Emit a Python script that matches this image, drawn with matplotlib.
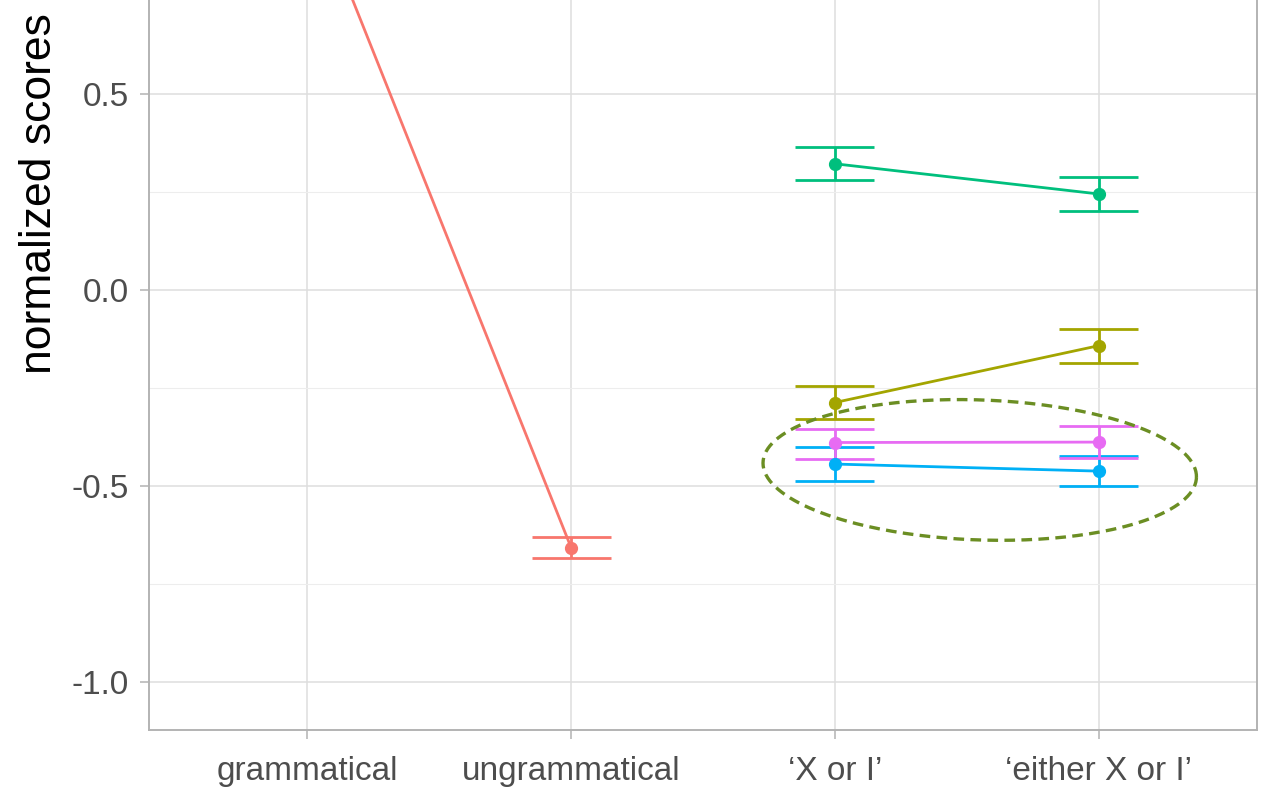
import numpy as np
import matplotlib.pyplot as plt

plt.rcParams['font.family'] = ['Liberation Sans', 'DejaVu Sans']

# conditions on the x axis
conditions = ['grammatical', 'ungrammatical', '\u2018X or I\u2019', '\u2018either X or I\u2019']

# each group: x positions (condition index), mean, lower, upper
ctrl_x = [1, 2]
ctrl_mean = [1.03, -0.657]
ctrl_lo = [1.00, -0.684]
ctrl_hi = [1.06, -0.631]

olive_x = [3, 4]
olive_mean = [-0.287, -0.142]
olive_lo = [-0.330, -0.187]
olive_hi = [-0.246, -0.099]

green_x = [3, 4]
green_mean = [0.322, 0.245]
green_lo = [0.280, 0.202]
green_hi = [0.366, 0.288]

blue_x = [3, 4]
blue_mean = [-0.444, -0.462]
blue_lo = [-0.486, -0.501]
blue_hi = [-0.401, -0.423]

pink_x = [3, 4]
pink_mean = [-0.389, -0.388]
pink_lo = [-0.431, -0.428]
pink_hi = [-0.355, -0.347]

groups = [
    (ctrl_x, ctrl_mean, ctrl_lo, ctrl_hi, '#F8766D'),
    (olive_x, olive_mean, olive_lo, olive_hi, '#A3A500'),
    (green_x, green_mean, green_lo, green_hi, '#00BF7D'),
    (blue_x, blue_mean, blue_lo, blue_hi, '#00B0F6'),
    (pink_x, pink_mean, pink_lo, pink_hi, '#E76BF3'),
]

fig = plt.figure(figsize=(12.67, 7.94), dpi=100)
ax = fig.add_axes([149 / 1267, 64 / 794, 1108 / 1267, 730 / 794])

for xs, m, lo, hi, col in groups:
    ax.plot(xs, m, color=col, lw=2, zorder=3)
    ax.vlines(xs, lo, hi, color=col, lw=2, zorder=3)
    xs = np.array(xs)
    ax.hlines(lo, xs - 0.15, xs + 0.15, color=col, lw=2, zorder=3)
    ax.hlines(hi, xs - 0.15, xs + 0.15, color=col, lw=2, zorder=3)
    ax.plot(xs, m, 'o', color=col, ms=8.5, zorder=4)

# dashed ring round the low-scoring groups
ell_cx, ell_cy = 3.549, -0.459
ell_a, ell_b, ell_ang = 217, 70, np.radians(-2)   # semi-axes in pixels
t = np.linspace(0, 2 * np.pi, 300)
px = ell_a * np.cos(t) * np.cos(ell_ang) - ell_b * np.sin(t) * np.sin(ell_ang)
py = ell_a * np.cos(t) * np.sin(ell_ang) + ell_b * np.sin(t) * np.cos(ell_ang)
ax.plot(ell_cx + px / 264, ell_cy + py / 392, color='#6B8E23', lw=2.4,
        ls=(0, (3.2, 1.9)), zorder=5)

ax.set_xlim(0.4, 4.6)
ax.set_ylim(-1.1224, 0.7398)
ax.set_xticks(range(1, 5))
ax.set_xticklabels(conditions)
ax.set_yticks([-1.0, -0.5, 0.0, 0.5])
ax.set_yticklabels(['-1.0', '-0.5', '0.0', '0.5'])
ax.set_yticks([-0.75, -0.25, 0.25], minor=True)

ax.grid(True, which='major', color='#DEDEDE', lw=1.1)
ax.grid(True, which='minor', axis='y', color='#EDEDED', lw=0.8)
ax.set_axisbelow(True)

ax.tick_params(which='major', colors='#B3B3B3', length=6.5, width=1.1,
               labelsize=24, labelcolor='#4D4D4D')
ax.tick_params(axis='y', pad=8)
ax.tick_params(axis='x', pad=12)
ax.tick_params(which='minor', length=0)
for s in ['left', 'bottom', 'right']:
    ax.spines[s].set_color('#B3B3B3')
    ax.spines[s].set_linewidth(1.4)
ax.spines['top'].set_visible(False)

fig.text(40 / 1267, 1 - 374 / 794, 'normalized scores', rotation=90,
         ha='center', va='bottom', fontsize=32, color='black')

fig.savefig('out.png', dpi=100)
